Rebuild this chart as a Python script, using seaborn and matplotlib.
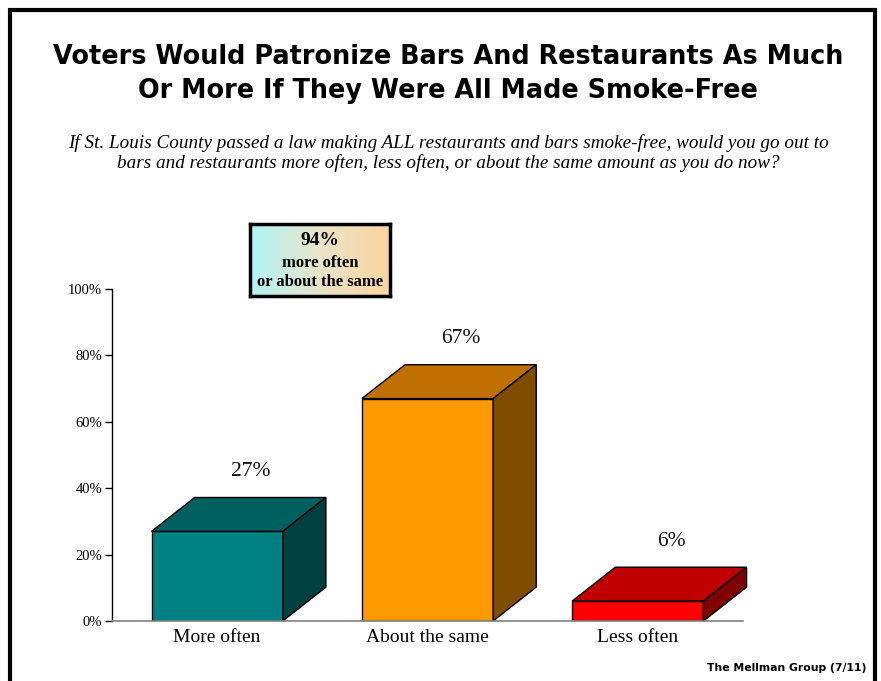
import matplotlib
matplotlib.use("Agg")
import matplotlib.pyplot as plt
import numpy as np
import pandas as pd
import seaborn as sns
from matplotlib.patches import Polygon, Rectangle
from matplotlib.colors import LinearSegmentedColormap

# data
categories = ["More often", "About the same", "Less often"]
values = [27, 67, 6]
front_colors = ["#008080", "#FF9900", "#FF0000"]
top_colors = ["#006060", "#C07000", "#C00000"]
side_colors = ["#004040", "#804C00", "#800000"]
y_ticks = [0, 20, 40, 60, 80, 100]
tick_labels = [f"{t}%" for t in y_ticks]

title = ("Voters Would Patronize Bars And Restaurants As Much\n"
         "Or More If They Were All Made Smoke-Free")
subtitle = ("If St. Louis County passed a law making ALL restaurants and bars smoke-free, would you go out to\n"
            "bars and restaurants more often, less often, or about the same amount as you do now?")
callout_pct = "94%"
callout_text = "more often\nor about the same"
footer = "The Mellman Group (7/11)"

df = pd.DataFrame({"category": categories, "value": values})

sns.set_style("white")
plt.rcParams["font.family"] = ["Liberation Serif", "DejaVu Serif"]
plt.rcParams["text.color"] = "black"
plt.rcParams["xtick.color"] = "black"
plt.rcParams["ytick.color"] = "black"

W, H = 881, 681
fig = plt.figure(figsize=(W / 100, H / 100), dpi=100)

def fx(px):
    return px / W

def fy(py):
    return 1 - py / H

# main axes: x 112..743 px, y 289..621 px
ax = fig.add_axes([fx(112), fy(621), fx(743) - fx(112), fy(289) - fy(621)])
bar_w = 0.624
sns.barplot(data=df, x="category", y="value", hue="category", palette=front_colors,
            saturation=1, width=bar_w, edgecolor="black", linewidth=1,
            legend=False, ax=ax, zorder=3)
ax.set_xlim(-0.5, 2.5)
ax.set_ylim(0, 100)

# 3D depth
dx, dy = 0.205, 10.2
for i, v in enumerate(values):
    x0, x1 = i - bar_w / 2, i + bar_w / 2
    top = Polygon([(x0, v), (x0 + dx, v + dy), (x1 + dx, v + dy), (x1, v)],
                  closed=True, facecolor=top_colors[i], edgecolor="black",
                  linewidth=1, zorder=3, clip_on=False)
    side = Polygon([(x1, 0), (x1 + dx, dy), (x1 + dx, v + dy), (x1, v)],
                   closed=True, facecolor=side_colors[i], edgecolor="black",
                   linewidth=1, zorder=3, clip_on=False)
    ax.add_patch(top)
    ax.add_patch(side)
    ax.text(i + 0.16, v + 18, f"{v}%", ha="center", va="center",
            fontsize=15.5, color="#111111")

ax.set_yticks(y_ticks)
ax.set_yticklabels(tick_labels, fontsize=10.5)
ax.tick_params(axis="y", length=5, width=1, direction="out", pad=2, left=True)
ax.tick_params(axis="x", length=0, pad=6, labelsize=14)
ax.set_xlabel("")
ax.set_ylabel("")
sns.despine(ax=ax)
ax.spines["left"].set_color("black")
ax.spines["left"].set_linewidth(1)
ax.spines["bottom"].set_color("#808080")
ax.spines["bottom"].set_linewidth(1.2)
ax.spines["bottom"].set_zorder(4)

# titles
fig.text(fx(448), fy(74), title, ha="center", va="center", fontsize=18.4,
         fontweight="bold", family="DejaVu Sans", linespacing=1.42)
fig.text(fx(448), fy(153), subtitle, ha="center", va="center", fontsize=13.8,
         style="italic", linespacing=1.2)

# callout box with gradient
bx = fig.add_axes([fx(250), fy(296), fx(390) - fx(250), fy(224) - fy(296)])
grad_cmap = LinearSegmentedColormap.from_list("cb", ["#B0F4F8", "#E8E4C8", "#FCD4A0"])
bx.imshow(np.linspace(0, 1, 256).reshape(1, -1), aspect="auto", cmap=grad_cmap,
          extent=[0, 1, 0, 1])
bx.set_xticks([])
bx.set_yticks([])
for s in bx.spines.values():
    s.set_linewidth(2.5)
    s.set_color("black")
bx.text(0.5, 0.77, callout_pct, ha="center", va="center", fontsize=14,
        fontweight="bold", transform=bx.transAxes)
bx.text(0.5, 0.33, callout_text, ha="center", va="center", fontsize=12,
        fontweight="bold", linespacing=1.25, transform=bx.transAxes)

# footer
fig.text(fx(866), fy(668), footer, ha="right", va="center", fontsize=7.8,
         fontweight="bold", family="DejaVu Sans")

# frame
fig.add_artist(Rectangle((fx(10), fy(700)), fx(865), fy(10) - fy(700),
                         transform=fig.transFigure, fill=False,
                         edgecolor="black", linewidth=3, clip_on=False))

fig.savefig("out.png", dpi=100)
